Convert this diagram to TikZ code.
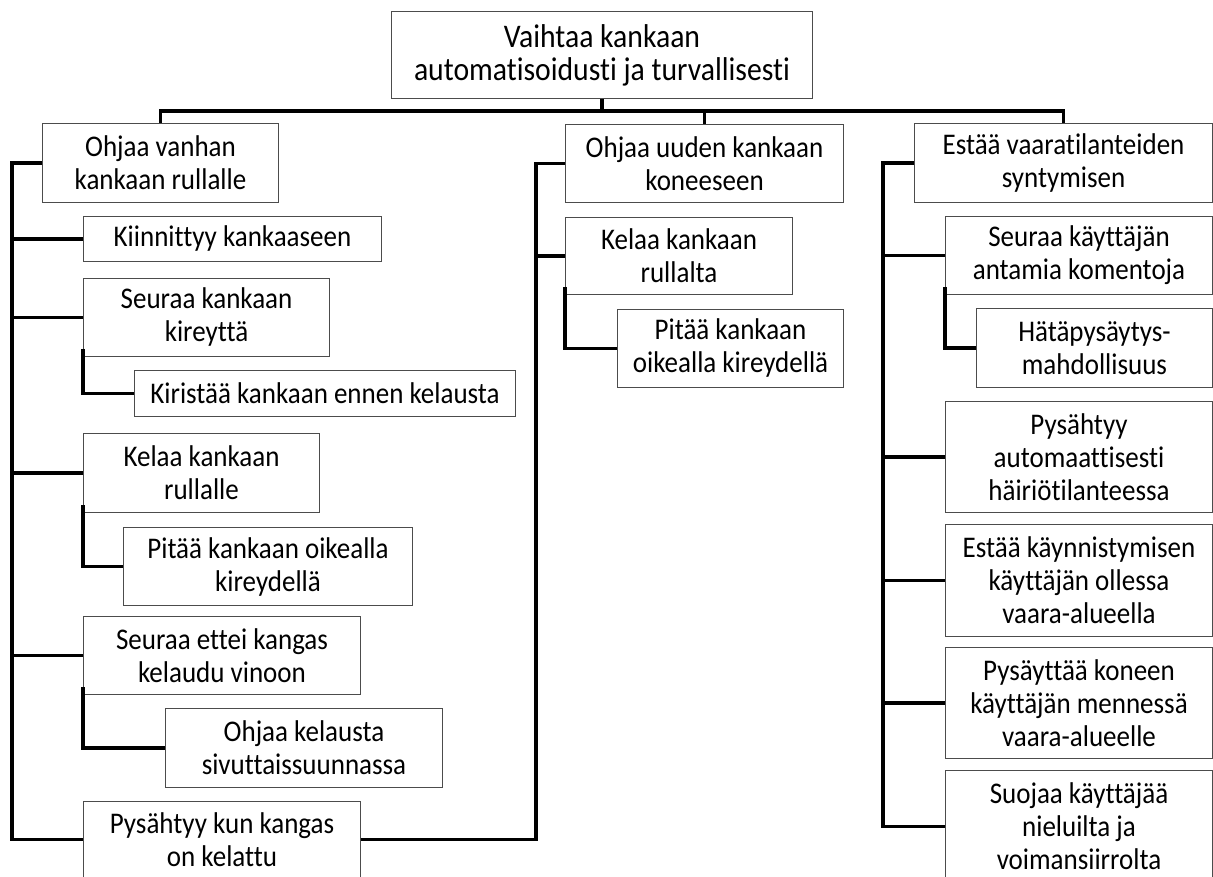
\documentclass[tikz,border=0pt]{standalone}
\usepackage{fontspec}
\setmainfont{Carlito}[FakeStretch=0.9, Ligatures=NoCommon]
\usetikzlibrary{positioning}

\begin{document}
\begin{tikzpicture}[x=1pt, y=-1pt,
    box/.style={draw=black!70, line width=1pt, anchor=north west, align=center, inner sep=2pt, font=\fontsize{30}{33}\selectfont},
    link/.style={line width=3.3pt}]
    \useasboundingbox (0,0) rectangle (1213,877);

    % Top level and the three main functions
    \node[box, minimum width=421pt, minimum height=87pt, font=\fontsize{33}{33}\selectfont] (top) at (391,11) {Vaihtaa kankaan\\automatisoidusti ja turvallisesti};
    \node[box, minimum width=236pt, minimum height=79pt] (o1) at (42,123) {Ohjaa vanhan\\kankaan rullalle};
    \node[box, minimum width=278pt, minimum height=78pt] (o2) at (565,124) {Ohjaa uuden kankaan\\koneeseen};
    \node[box, minimum width=298pt, minimum height=79pt] (o3) at (914,123) {Estää vaaratilanteiden\\syntymisen};

    % Left column
    \node[box, minimum width=298pt, minimum height=45pt] (kiin) at (83,216) {Kiinnittyy kankaaseen};
    \node[box, minimum width=246pt, minimum height=78pt] (seur) at (83,278) {Seuraa kankaan\\kireyttä};
    \node[box, minimum width=381pt, minimum height=46pt] (kiri) at (134,370) {Kiristää kankaan ennen kelausta};
    \node[box, minimum width=236pt, minimum height=79pt] (kela) at (83,433) {Kelaa kankaan\\rullalle};
    \node[box, minimum width=289pt, minimum height=78pt] (pita) at (123,527) {Pitää kankaan oikealla\\kireydellä};
    \node[box, minimum width=277pt, minimum height=78pt] (vino) at (83,616) {Seuraa ettei kangas\\kelaudu vinoon};
    \node[box, minimum width=277pt, minimum height=79pt] (sivu) at (165,708) {Ohjaa kelausta\\sivuttaissuunnassa};
    \node[box, minimum width=277pt, minimum height=76pt] (pys) at (83,801) {Pysähtyy kun kangas\\on kelattu};

    % Middle column
    \node[box, minimum width=227pt, minimum height=77pt] (rull) at (565,217) {Kelaa kankaan\\rullalta};
    \node[box, minimum width=226pt, minimum height=78pt] (kire) at (617,309) {Pitää kankaan\\oikealla kireydellä};

    % Right column
    \node[box, minimum width=267pt, minimum height=78pt] (kom) at (945,216) {Seuraa käyttäjän\\antamia komentoja};
    \node[box, minimum width=236pt, minimum height=79pt] (hata) at (976,308) {Hätäpysäytys-\\mahdollisuus};
    \node[box, minimum width=267pt, minimum height=111pt] (hair) at (945,401) {Pysähtyy\\automaattisesti\\häiriötilanteessa};
    \node[box, minimum width=267pt, minimum height=112pt] (kayn) at (945,524) {Estää käynnistymisen\\käyttäjän ollessa\\vaara-alueella};
    \node[box, minimum width=267pt, minimum height=111pt] (men) at (945,647) {Pysäyttää koneen\\käyttäjän mennessä\\vaara-alueelle};
    \node[box, minimum width=267pt, minimum height=112pt] (suo) at (945,770) {Suojaa käyttäjää\\nieluilta ja\\voimansiirrolta};

    % Top bus
    \coordinate (bus) at (0,111);
    \draw[link] (top.south) -- (top.south |- bus);
    \draw[link] (o1.north) |- (bus -| o3.north) -- (o3.north);
    \draw[link] (o2.north) -- (o2.north |- bus);

    % Left bus
    \coordinate (lbus) at (12,0);
    \draw[link] (o1.west) -| (lbus |- pys.west) -- (pys.west);
    \foreach \n in {kiin,seur,kela,vino}
        \draw[link] (\n.west) -- (\n.west -| lbus);
    \draw[link] ([yshift=8pt]seur.south west) |- (kiri.west);
    \draw[link] ([yshift=8pt]kela.south west) |- (pita.west);
    \draw[link] ([yshift=8pt]vino.south west) |- (sivu.west);

    % Middle bus
    \coordinate (mbus) at (536,0);
    \draw[link] (o2.west) -| (mbus |- pys.east) -- (pys.east);
    \draw[link] (rull.west) -- (rull.west -| mbus);
    \draw[link] ([yshift=8pt]rull.south west) |- (kire.west);

    % Right bus
    \coordinate (rbus) at (883,0);
    \draw[link] (o3.west) -| (rbus |- suo.west) -- (suo.west);
    \foreach \n in {kom,hair,kayn,men}
        \draw[link] (\n.west) -- (\n.west -| rbus);
    \draw[link] ([yshift=8pt]kom.south west) |- (hata.west);
\end{tikzpicture}
\end{document}
